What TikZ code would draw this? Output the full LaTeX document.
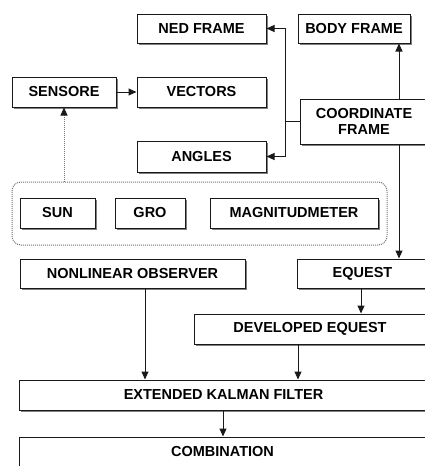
\documentclass[tikz,border=0pt]{standalone}
\usepackage{fontspec}
\setmainfont{Liberation Sans}
\usetikzlibrary{shadows,arrows.meta,calc}
\begin{document}
\begin{tikzpicture}[x=1pt,y=-1pt,
  box/.style={draw=black!90, fill=white, line width=1pt, inner sep=0pt, align=center,
    font=\fontsize{14.5}{16}\selectfont\bfseries,
    drop shadow={shadow xshift=2.2pt, shadow yshift=-2.2pt, fill=black!50, opacity=1}},
  arr/.style={line width=1pt, draw=black!90, -{Triangle[length=8pt,width=7pt]}},
  ln/.style={line width=1pt, draw=black!90},
  grp/.style={draw=black!55, densely dotted, line width=1pt, rounded corners=9pt}]
\useasboundingbox (0,0) rectangle (425,466);
\clip (0,0) rectangle (425,466);
% group
\node[grp, minimum width=375pt, minimum height=63pt] (grp) at (199.5,213.5) {};
\node[box, minimum width=129pt, minimum height=29pt] (ned) at (201.5,28.5) {NED FRAME};
\node[box, minimum width=112pt, minimum height=29pt] (body) at (354,28.5) {BODY FRAME};
\node[box, minimum width=104pt, minimum height=30pt] (sens) at (64,92) {SENSORE};
\node[box, minimum width=129pt, minimum height=30pt] (vec) at (201.5,92) {VECTORS};
\node[box, minimum width=128pt, minimum height=45pt] (coord) at (364,121.5) {COORDINATE\\FRAME};
\node[box, minimum width=129pt, minimum height=31pt] (ang) at (201.5,156.5) {ANGLES};
\node[box, minimum width=75pt, minimum height=30pt] (sun) at (57.5,213) {SUN};
\node[box, minimum width=70pt, minimum height=30pt] (gro) at (150,213) {GRO};
\node[box, minimum width=168pt, minimum height=30pt] (mag) at (294,213) {MAGNITUDMETER};
\node[box, minimum width=225pt, minimum height=29pt] (nlo) at (132.5,273.5) {NONLINEAR OBSERVER};
\node[box, minimum width=131pt, minimum height=29pt] (eq) at (362.5,273.5) {EQUEST};
\node[box, minimum width=232pt, minimum height=30pt] (dev) at (310,329) {DEVELOPED EQUEST};
\node[box, minimum width=409pt, minimum height=30pt] (ekf) at (223.5,395) {EXTENDED KALMAN FILTER};
\node[box, minimum width=407pt, minimum height=30pt] (comb) at (222.5,452) {COMBINATION};
% connectors
\draw[arr] (sens.east) -- (vec.west);
\coordinate (j) at (285,121.5);
\draw[ln] (coord.west) -- (j);
\draw[arr] (j) |- (ned.east);
\draw[arr] (j) |- (ang.east);
\draw[arr] (coord.north -| 399,0) -- (body.south -| 399,0);
\draw[arr] (coord.south -| 399,0) -- (eq.north -| 399,0);
\draw[arr] (eq.south -| 361,0) -- (dev.north -| 361,0);
\draw[arr] (dev.south -| 298,0) -- (ekf.north -| 298,0);
\draw[arr] (nlo.south -| 145,0) -- (ekf.north -| 145,0);
\draw[arr] (ekf.south -| 223,0) -- (comb.north -| 223,0);
\draw[line width=1pt, draw=black!55, densely dotted, -{Triangle[length=8pt,width=7pt,color=black!90]}] (grp.north -| sens.south) -- (sens.south);
\end{tikzpicture}
\end{document}
